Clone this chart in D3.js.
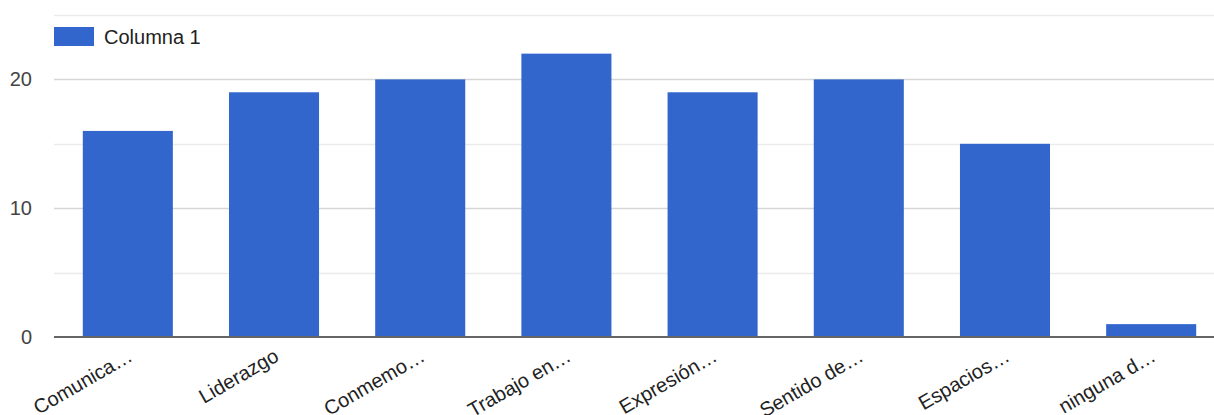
<!DOCTYPE html>
<html>
<head>
<meta charset="utf-8">
<script src="https://cdn.jsdelivr.net/npm/d3@7"></script>
<style>
  body { margin: 0; background: #fff; }
  text { font-family: "Liberation Sans", Arial, sans-serif; }
</style>
</head>
<body>
<div id="chart"></div>
<script>
// data
const categories = ["Comunica…", "Liderazgo", "Conmemo…", "Trabajo en…", "Expresión…", "Sentido de…", "Espacios…", "ninguna d…"];
const values = [16, 19, 20, 22, 19, 20, 15, 1];
const majorTicks = [0, 10, 20];
const minorTicks = [5, 15, 25];
const seriesName = "Columna 1";

const svgWidth = 1214;
const svgHeight = 415;

const margin = { top: 15, right: 0, bottom: 78, left: 54 };
const height = svgHeight - margin.top - margin.bottom;

const svg = d3.select("#chart")
  .append("svg")
  .attr("width", svgWidth)
  .attr("height", svgHeight);

const chartGroup = svg.append("g")
  .attr("transform", `translate(${margin.left}, ${margin.top})`);

// scales
const x = d3.scaleBand()
  .domain(categories)
  .range([0, 1171])
  .paddingInner(0.384)
  .paddingOuter(0.197);

const y = d3.scaleLinear()
  .domain([0, 25])
  .range([height, 0]);

// minor gridlines
chartGroup.selectAll(".minor")
  .data(minorTicks)
  .enter()
  .append("line")
  .attr("x1", 0)
  .attr("x2", svgWidth)
  .attr("y1", d => Math.round(y(d)) + 0.5)
  .attr("y2", d => Math.round(y(d)) + 0.5)
  .attr("stroke", "#ebebeb")
  .attr("stroke-width", 1.5);

// major gridlines
chartGroup.selectAll(".major")
  .data(majorTicks.filter(d => d > 0))
  .enter()
  .append("line")
  .attr("x1", 0)
  .attr("x2", svgWidth)
  .attr("y1", d => Math.round(y(d)) + 0.5)
  .attr("y2", d => Math.round(y(d)) + 0.5)
  .attr("stroke", "#d6d6d6")
  .attr("stroke-width", 1.5);

// y axis labels
const leftAxis = d3.axisLeft(y).tickValues(majorTicks).tickSize(0).tickPadding(22);
const yAxis = chartGroup.append("g").call(leftAxis);
yAxis.select(".domain").remove();
yAxis.selectAll("text")
  .attr("fill", "#444")
  .style("font-family", "'Liberation Sans', Arial, sans-serif")
  .style("font-size", "20px");

// bars
chartGroup.selectAll("rect.bar")
  .data(values)
  .enter()
  .append("rect")
  .attr("class", "bar")
  .attr("x", (d, i) => x(categories[i]))
  .attr("y", d => y(d))
  .attr("width", x.bandwidth())
  .attr("height", d => height - y(d))
  .attr("fill", "#3366cc");

// zero baseline
chartGroup.append("line")
  .attr("x1", 0)
  .attr("x2", svgWidth)
  .attr("y1", y(0))
  .attr("y2", y(0))
  .attr("stroke", "#666")
  .attr("stroke-width", 2);

// x labels, rotated
chartGroup.selectAll("text.xlabel")
  .data(categories)
  .enter()
  .append("text")
  .attr("class", "xlabel")
  .attr("transform", d => `translate(${x(d) + x.bandwidth() / 2 + 6}, ${height + 23}) rotate(-30)`)
  .attr("text-anchor", "end")
  .attr("fill", "#222")
  .style("font-size", "20px")
  .text(d => d);

// legend
const legend = svg.append("g").attr("transform", "translate(54, 27)");
legend.append("rect")
  .attr("width", 40)
  .attr("height", 19)
  .attr("fill", "#3366cc");
legend.append("text")
  .attr("x", 50)
  .attr("y", 17)
  .attr("fill", "#222")
  .style("font-size", "20px")
  .text(seriesName);
</script>
</body>
</html>
